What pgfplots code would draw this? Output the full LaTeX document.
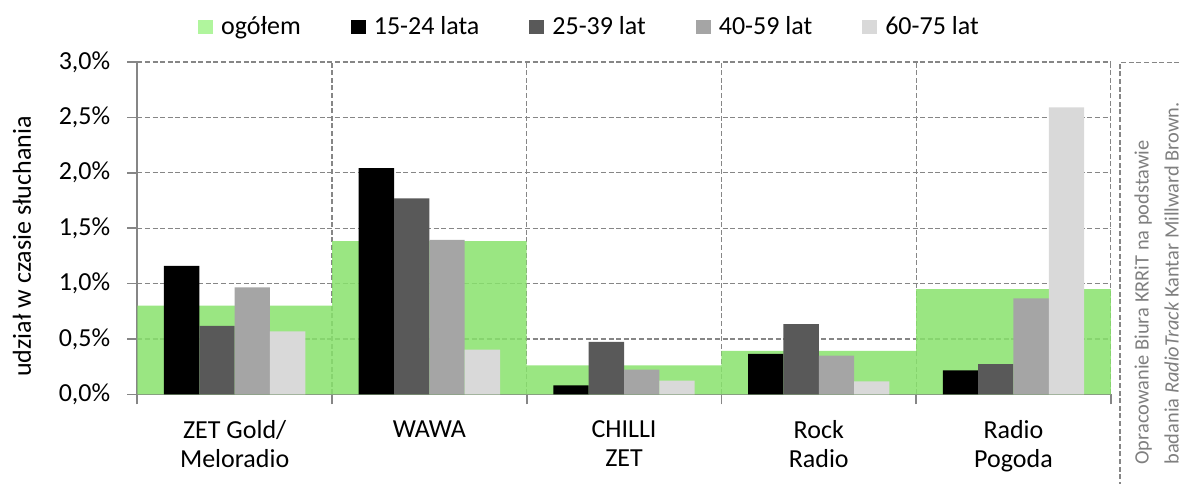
\documentclass[border=0pt]{standalone}
\usepackage{fontspec}
\setmainfont{Carlito}
\usepackage{pgfplots}
\pgfplotsset{compat=1.18}
\definecolor{ogolem}{RGB}{136,226,108}
\definecolor{ogolemleg}{RGB}{176,245,157}
\definecolor{g2}{RGB}{89,89,89}
\definecolor{g3}{RGB}{165,165,165}
\definecolor{g4}{RGB}{217,217,217}
\definecolor{linegray}{RGB}{134,134,134}
\definecolor{notegray}{RGB}{127,127,127}

\begin{document}
\begin{tikzpicture}
\begin{axis}[
  name=ax,
  width=486.75pt, height=166.15pt, scale only axis,
  xmin=-0.5, xmax=4.5, ymin=0, ymax=3,
  enlargelimits=false,
  axis x line*=bottom, axis y line*=left,
  axis line style={linegray, line width=0.8pt},
  xtick={0,...,4},
  xticklabels={ZET Gold/\\Meloradio, WAWA, CHILLI\\ZET, Rock\\Radio, Radio\\Pogoda},
  minor xtick={-0.5,0.5,...,4.5},
  ytick={0,0.5,...,3},
  yticklabel={\pgfmathprintnumber[fixed,fixed zerofill,precision=1,use comma]{\tick}\%},
  /pgf/number format/assume math mode=true,
  tick align=outside,
  major tick length=5pt, minor tick length=5pt,
  every tick/.style={linegray, line width=0.8pt},
  every major x tick/.append style={draw=none},
  xminorgrids=true, ymajorgrids=true,
  grid style={linegray, line width=0.6pt, dash pattern=on 2.5pt off 1.3pt},
  minor grid style={linegray, line width=0.6pt, dash pattern=on 2.5pt off 1.3pt},
  tick label style={font=\fontsize{13}{14.5}\selectfont},
  xticklabel style={align=center, yshift=-4.5pt},
  yticklabel style={xshift=-5pt},
  ylabel={udział w czasie słuchania},
  ylabel style={at={(rel axis cs:-0.1184,0.445)}, anchor=center, font=\fontsize{13}{15}\selectfont},
  legend columns=5,
  legend image code/.code={\fill[#1, draw=none] (0pt,-3.5pt) rectangle (7.5pt,3.5pt);},
  legend style={draw=none, fill=none, at={(rel axis cs:0.4655,1.105)}, anchor=center,
    font=\fontsize{13}{15}\selectfont,
    /tikz/every odd column/.append style={column sep=2pt},
    /tikz/every even column/.append style={column sep=23pt}},
]
\addlegendimage{fill=ogolemleg}
\addlegendimage{fill=black}
\addlegendimage{fill=g2}
\addlegendimage{fill=g3}
\addlegendimage{fill=g4}

% ogółem - tło na całą szerokość kategorii
\addplot[ybar, bar width=1, bar shift=0, fill=ogolem, fill opacity=0.85, draw=none, forget plot]
  coordinates {(0,0.800) (1,1.383) (2,0.262) (3,0.391) (4,0.950)};
% grupy wiekowe
\addplot[ybar, bar width=0.1815, bar shift=-0.2723, fill=black, draw=none, forget plot]
  coordinates {(0,1.160) (1,2.042) (2,0.081) (3,0.364) (4,0.215)};
\addplot[ybar, bar width=0.1815, bar shift=-0.0908, fill=g2, draw=none, forget plot]
  coordinates {(0,0.617) (1,1.768) (2,0.473) (3,0.633) (4,0.272)};
\addplot[ybar, bar width=0.1815, bar shift=0.0908, fill=g3, draw=none, forget plot]
  coordinates {(0,0.965) (1,1.395) (2,0.223) (3,0.349) (4,0.866)};
\addplot[ybar, bar width=0.1815, bar shift=0.2723, fill=g4, draw=none, forget plot]
  coordinates {(0,0.568) (1,0.403) (2,0.123) (3,0.116) (4,2.590)};
\legend{ogółem, 15-24 lata, 25-39 lat, 40-59 lat, 60-75 lat}
\end{axis}

% ramka z opisem źródła
\draw[linegray, line width=0.6pt, dash pattern=on 2.5pt off 1.3pt]
  ([shift={(491.35pt,-50pt)}]ax.south west) |- ([shift={(540pt,166pt)}]ax.south west);
\node[rotate=90, anchor=base west, inner sep=0pt, text=notegray, font=\fontsize{10.2}{14}\selectfont]
  at ([shift={(505.6pt,-35.35pt)}]ax.south west) {Opracowanie Biura KRRiT na podstawie};
\node[rotate=90, anchor=base west, inner sep=0pt, text=notegray, font=\fontsize{10.2}{14}\selectfont]
  at ([shift={(520.6pt,-35.35pt)}]ax.south west) {badania \textit{RadioTrack} Kantar Millward Brown.};

\pgfresetboundingbox
\path ([shift={(-68.65pt,-44.35pt)}]ax.south west) rectangle ([shift={(521.85pt,197.15pt)}]ax.south west);
\end{tikzpicture}
\end{document}
